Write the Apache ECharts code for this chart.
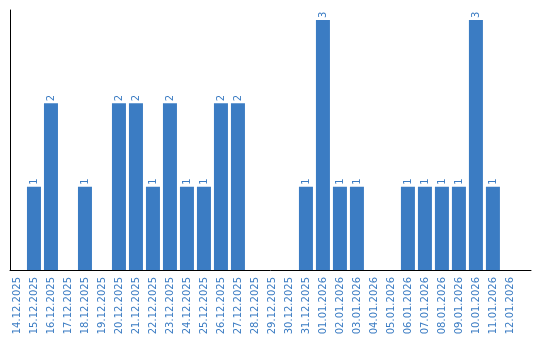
<!DOCTYPE html>
<html><head><meta charset="utf-8">
<script src="https://cdn.jsdelivr.net/npm/echarts@6/dist/echarts.min.js"></script>
<style>html,body{margin:0;padding:0;background:#fff}#c{width:540px;height:340px}</style>
</head><body><div id="c"></div>
<script>
const categories = ["14.12.2025","15.12.2025","16.12.2025","17.12.2025","18.12.2025","19.12.2025","20.12.2025","21.12.2025","22.12.2025","23.12.2025","24.12.2025","25.12.2025","26.12.2025","27.12.2025","28.12.2025","29.12.2025","30.12.2025","31.12.2025","01.01.2026","02.01.2026","03.01.2026","04.01.2026","05.01.2026","06.01.2026","07.01.2026","08.01.2026","09.01.2026","10.01.2026","11.01.2026","12.01.2026"];
const counts = [0,1,2,0,1,0,2,2,1,2,1,1,2,2,0,0,0,1,3,1,1,0,0,1,1,1,1,3,1,0];

const blue = '#3b7cc3';
const chart = echarts.init(document.getElementById('c'));
chart.setOption({
  animation: false,
  grid: {left: 10, top: 10, width: 521, height: 260, containLabel: false, outerBoundsMode: 'none'},
  xAxis: {
    type: 'value', min: -0.41, max: 30.24,
    splitLine: {show: false},
    axisTick: {show: false},
    axisLine: {show: true, onZero: false, lineStyle: {color: '#000', width: 1}},
    axisLabel: {
      customValues: categories.map((c, i) => i),
      formatter: v => categories[Math.round(v)] || '',
      rotate: 90, color: blue, fontFamily: 'DejaVu Sans', fontSize: 10, margin: 7
    }
  },
  yAxis: {
    type: 'value', min: 0, max: 3.12,
    splitLine: {show: false},
    axisTick: {show: false},
    axisLabel: {show: false},
    axisLine: {show: true, onZero: false, lineStyle: {color: '#000', width: 1}}
  },
  series: [{
    type: 'bar',
    barWidth: 14,
    data: counts.map((v, i) => [i, v]),
    itemStyle: {color: blue},
    label: {
      show: true, position: 'top', rotate: 90, align: 'left', verticalAlign: 'middle',
      distance: 2, color: blue, fontFamily: 'DejaVu Sans', fontSize: 10,
      formatter: p => p.value[1] ? String(p.value[1]) : ''
    }
  }]
});
</script></body></html>
